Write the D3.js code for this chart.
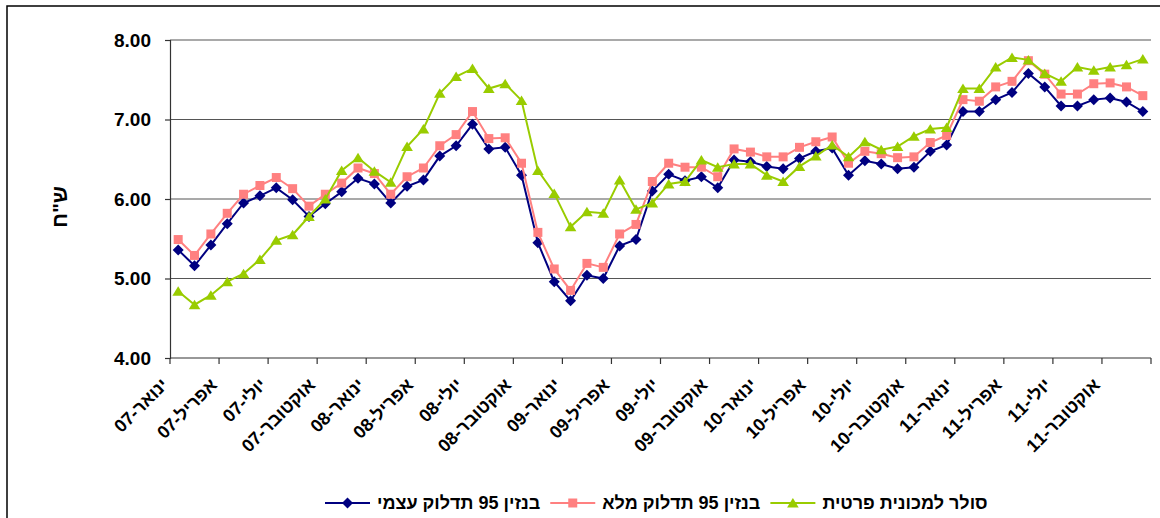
<!DOCTYPE html>
<html><head><meta charset="utf-8">
<script src="https://cdn.jsdelivr.net/npm/d3@7"></script>
<style>
html,body{margin:0;padding:0;background:#fff;}
svg{display:block;font-family:"Liberation Sans",Arial,sans-serif;}
</style></head>
<body>
<svg id="chart" width="1160" height="518"></svg>
<script>
const monthNames = ["ינואר","פברואר","מרץ","אפריל","מאי","יוני","יולי","אוגוסט","ספטמבר","אוקטובר","נובמבר","דצמבר"];
const years = ["07","08","09","10","11"];
const yTicks = [4, 5, 6, 7, 8];
const yTitle = 'ש"ח';
const seriesNames = ["בנזין 95 תדלוק עצמי", "בנזין 95 תדלוק מלא", "סולר למכונית פרטית"];
const seriesColors = ["#000080", "#FF8080", "#99CC00"];

const selfService95 = [5.36,5.16,5.42,5.69,5.95,6.04,6.14,5.99,5.78,5.94,6.09,6.26,6.19,5.95,6.16,6.24,6.54,6.67,6.94,
  6.63,6.65,6.30,5.45,4.96,4.72,5.04,5.00,5.41,5.49,6.10,6.31,6.23,6.28,6.14,6.49,6.47,6.41,6.38,
  6.51,6.60,6.64,6.30,6.48,6.44,6.38,6.40,6.60,6.68,7.10,7.10,7.25,7.34,7.58,7.41,7.17,7.17,7.25,7.27,7.22,7.10];
const fullService95 = [5.49,5.29,5.56,5.82,6.06,6.17,6.27,6.13,5.91,6.06,6.20,6.39,6.32,6.06,6.28,6.39,6.67,6.81,7.10,
  6.76,6.77,6.45,5.58,5.12,4.85,5.19,5.14,5.56,5.68,6.22,6.45,6.40,6.40,6.28,6.63,6.59,6.53,6.53,
  6.65,6.72,6.78,6.45,6.60,6.57,6.52,6.53,6.71,6.80,7.25,7.23,7.41,7.48,7.74,7.57,7.32,7.32,7.45,7.46,7.41,7.30];
const diesel = [4.84,4.67,4.79,4.96,5.06,5.24,5.48,5.55,5.78,6.00,6.36,6.52,6.35,6.21,6.66,6.88,7.33,7.54,7.64,
  7.39,7.45,7.24,6.36,6.07,5.65,5.84,5.82,6.24,5.87,5.95,6.19,6.22,6.49,6.40,6.44,6.44,6.30,6.22,
  6.41,6.54,6.68,6.53,6.72,6.62,6.66,6.79,6.88,6.90,7.39,7.39,7.66,7.78,7.75,7.58,7.48,7.66,7.62,7.66,7.69,7.76];

const categories = [];
years.forEach(y => monthNames.forEach(m => categories.push(m + "-" + y)));
const series = [selfService95, fullService95, diesel];
const markers = ["diamond", "square", "triangle"];

const svg = d3.select("#chart");
const L = 170, R = 1151, T = 40, B = 358;
const font = '"Liberation Sans",Arial,sans-serif';

// outer frame
svg.append("rect").attr("x", 7).attr("y", 6).attr("width", 1200).attr("height", 600)
  .attr("fill", "none").attr("stroke", "#000").attr("stroke-width", 1.5);

const x = d3.scaleBand().domain(categories).range([L, R]).padding(0);
const y = d3.scaleLinear().domain([4, 8]).range([B, T]);

// gridlines
svg.append("g").selectAll("line").data(yTicks.filter(v => v > 4)).join("line")
  .attr("x1", L).attr("x2", R).attr("y1", d => y(d)).attr("y2", d => y(d))
  .attr("stroke", "#555").attr("stroke-width", 1.2);

// y axis
const yAxis = d3.axisLeft(y).tickValues(yTicks).tickFormat(d3.format(".2f")).tickSize(5).tickPadding(14);
const gy = svg.append("g").attr("transform", `translate(${L},0)`).call(yAxis);
gy.select(".domain").attr("stroke", "#333").attr("stroke-width", 1.2);
gy.selectAll(".tick line").attr("stroke", "#333").attr("stroke-width", 1.2);
gy.selectAll(".tick text").attr("font-size", 19).attr("font-weight", "bold").attr("font-family", font).attr("fill", "#000");

// x axis
const bw = x.bandwidth();
const boundaries = d3.range(0, categories.length + 1, 3);
svg.append("line").attr("x1", L).attr("x2", R).attr("y1", B).attr("y2", B)
  .attr("stroke", "#333").attr("stroke-width", 1.2);
svg.append("g").selectAll("line").data(boundaries).join("line")
  .attr("x1", d => L + d * bw).attr("x2", d => L + d * bw)
  .attr("y1", B).attr("y2", B + 6).attr("stroke", "#333").attr("stroke-width", 1.2);

const labelCats = categories.filter((c, i) => i % 3 === 0);
svg.append("g").selectAll("text").data(labelCats).join("text")
  .attr("transform", d => `translate(${x(d) + bw / 2 - 9},${B + 28}) rotate(-45)`)
  .attr("text-anchor", "end")
  .attr("font-size", 18).attr("font-weight", "bold").attr("font-family", font)
  .text(d => d);

// y title
svg.append("text").attr("transform", "translate(60,207) rotate(-90)")
  .attr("text-anchor", "middle").attr("dy", "0.35em")
  .attr("font-size", 21).attr("font-weight", "bold").attr("font-family", font)
  .text(yTitle);

function markerPath(type) {
  if (type === "diamond") return "M0,-5.5L5.5,0L0,5.5L-5.5,0Z";
  if (type === "square") return "M-4.5,-4.5H4.5V4.5H-4.5Z";
  return "M0,-5L5.8,4.5H-5.8Z";
}

const line = d3.line().x((d, i) => x(categories[i]) + bw / 2).y(d => y(d));
series.forEach((vals, si) => {
  const g = svg.append("g");
  g.append("path").datum(vals).attr("d", line).attr("fill", "none")
    .attr("stroke", seriesColors[si]).attr("stroke-width", 2);
  g.selectAll("path.m").data(vals).join("path").attr("class", "m")
    .attr("transform", (d, i) => `translate(${x(categories[i]) + bw / 2},${y(d)})`)
    .attr("d", markerPath(markers[si])).attr("fill", seriesColors[si]);
});

// legend
const lg = svg.append("g");
let lx = 325;
const ly = 503;
seriesNames.forEach((name, si) => {
  lg.append("line").attr("x1", lx).attr("x2", lx + 45).attr("y1", ly).attr("y2", ly)
    .attr("stroke", seriesColors[si]).attr("stroke-width", 2);
  lg.append("path").attr("transform", `translate(${lx + 22.5},${ly})`)
    .attr("d", markerPath(markers[si])).attr("fill", seriesColors[si]);
  const t = lg.append("text").attr("x", lx + 52).attr("y", ly).attr("dy", "0.35em")
    .attr("font-size", 18).attr("font-weight", "bold").attr("font-family", font)
    .text(name);
  const w = t.node().getComputedTextLength();
  lx = lx + 52 + w + 10;
});
</script>
</body></html>
